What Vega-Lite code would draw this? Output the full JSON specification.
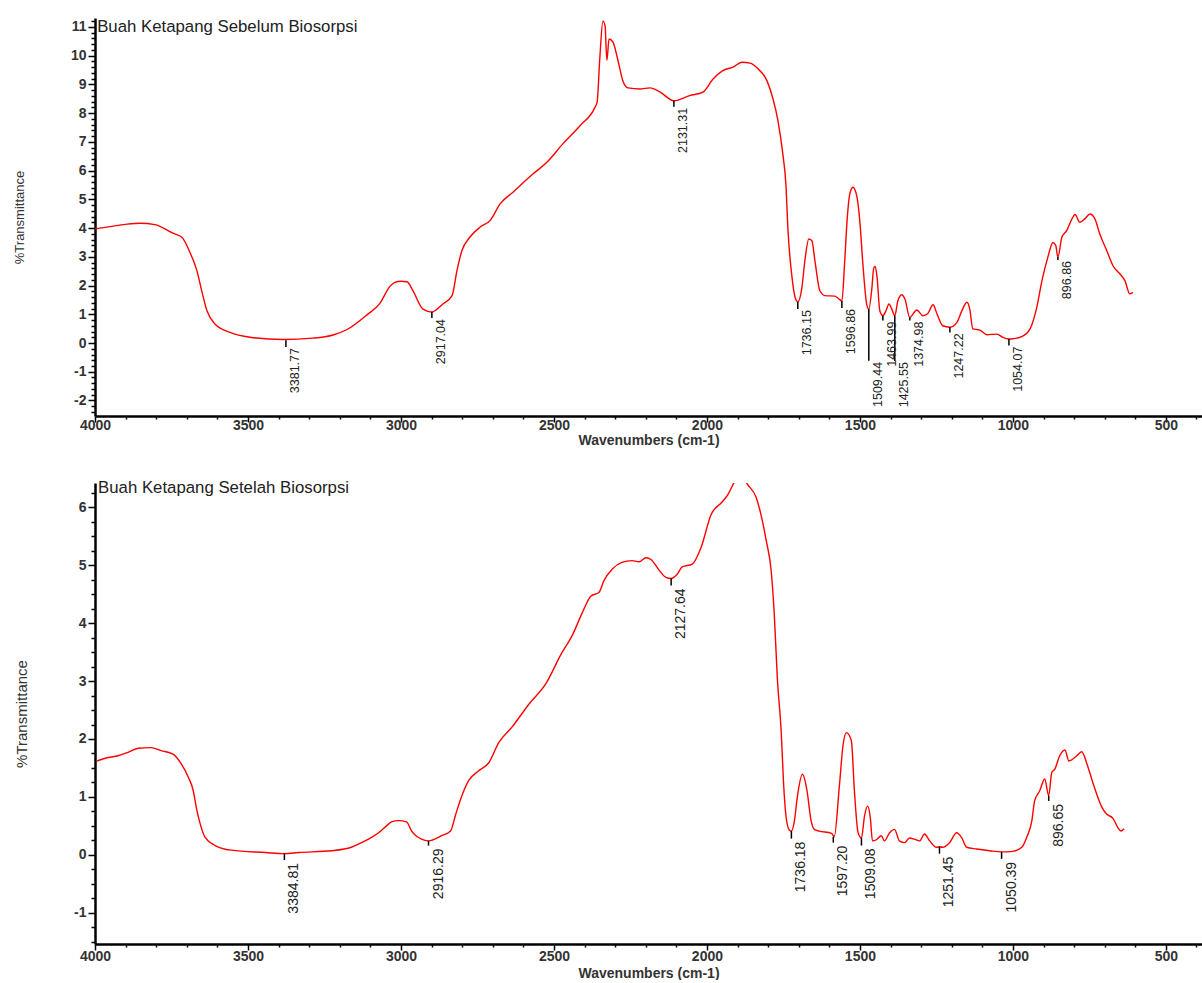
{
  "$schema": "https://vega.github.io/schema/vega-lite/v6.json",
  "padding": {"left": 13, "top": 14, "right": 0, "bottom": 0},
  "background": "white",
  "config": {"view": {"stroke": null}, "font": "Liberation Sans", "concat": {"spacing": 32}},
  "datasets": {
    "before": [
      {"wn":4000,"t":3.97},{"wn":3951,"t":4.05},{"wn":3900,"t":4.13},{"wn":3853,"t":4.17},{"wn":3804,"t":4.12},{"wn":3745,"t":3.82},{"wn":3716,"t":3.68},{"wn":3690,"t":3.16},{"wn":3667,"t":2.52},{"wn":3650,"t":1.76},{"wn":3634,"t":1.12},{"wn":3608,"t":0.66},{"wn":3559,"t":0.37},{"wn":3493,"t":0.2},{"wn":3386,"t":0.12},{"wn":3288,"t":0.17},{"wn":3222,"t":0.28},{"wn":3176,"t":0.47},{"wn":3111,"t":0.98},{"wn":3069,"t":1.38},{"wn":3036,"t":1.97},{"wn":3020,"t":2.11},{"wn":3000,"t":2.15},{"wn":2980,"t":2.13},{"wn":2961,"t":1.82},{"wn":2928,"t":1.18},{"wn":2899,"t":1.08},{"wn":2863,"t":1.36},{"wn":2833,"t":1.65},{"wn":2817,"t":2.52},{"wn":2801,"t":3.21},{"wn":2775,"t":3.68},{"wn":2742,"t":4.03},{"wn":2709,"t":4.26},{"wn":2676,"t":4.84},{"wn":2634,"t":5.25},{"wn":2569,"t":5.88},{"wn":2523,"t":6.29},{"wn":2471,"t":6.93},{"wn":2415,"t":7.56},{"wn":2366,"t":8.2},{"wn":2359,"t":8.38},{"wn":2350,"t":9.94},{"wn":2340,"t":11.2},{"wn":2333,"t":11.04},{"wn":2327,"t":9.84},{"wn":2320,"t":10.58},{"wn":2307,"t":10.47},{"wn":2291,"t":9.84},{"wn":2275,"t":9.13},{"wn":2258,"t":8.88},{"wn":2219,"t":8.84},{"wn":2186,"t":8.88},{"wn":2154,"t":8.74},{"wn":2108,"t":8.43},{"wn":2056,"t":8.61},{"wn":2013,"t":8.73},{"wn":1980,"t":9.19},{"wn":1948,"t":9.48},{"wn":1915,"t":9.6},{"wn":1886,"t":9.77},{"wn":1859,"t":9.74},{"wn":1833,"t":9.54},{"wn":1804,"t":9.13},{"wn":1784,"t":8.49},{"wn":1768,"t":7.74},{"wn":1752,"t":6.58},{"wn":1742,"t":5.53},{"wn":1735,"t":3.91},{"wn":1722,"t":2.29},{"wn":1712,"t":1.59},{"wn":1703,"t":1.43},{"wn":1690,"t":1.9},{"wn":1680,"t":2.86},{"wn":1667,"t":3.62},{"wn":1657,"t":3.56},{"wn":1647,"t":2.86},{"wn":1631,"t":1.82},{"wn":1614,"t":1.65},{"wn":1582,"t":1.63},{"wn":1565,"t":1.5},{"wn":1559,"t":1.46},{"wn":1550,"t":2.8},{"wn":1542,"t":4.26},{"wn":1533,"t":5.19},{"wn":1523,"t":5.42},{"wn":1510,"t":5.1},{"wn":1500,"t":4.2},{"wn":1490,"t":2.7},{"wn":1477,"t":1.3},{"wn":1471,"t":1.18},{"wn":1461,"t":1.9},{"wn":1455,"t":2.6},{"wn":1450,"t":2.66},{"wn":1444,"t":2.29},{"wn":1435,"t":1.12},{"wn":1425,"t":0.95},{"wn":1415,"t":1.12},{"wn":1405,"t":1.36},{"wn":1396,"t":1.18},{"wn":1386,"t":0.95},{"wn":1376,"t":1.47},{"wn":1363,"t":1.68},{"wn":1353,"t":1.53},{"wn":1337,"t":0.89},{"wn":1314,"t":1.15},{"wn":1294,"t":0.95},{"wn":1278,"t":1.03},{"wn":1261,"t":1.33},{"wn":1248,"t":1.01},{"wn":1229,"t":0.6},{"wn":1206,"t":0.55},{"wn":1183,"t":0.72},{"wn":1167,"t":1.12},{"wn":1150,"t":1.42},{"wn":1141,"t":1.18},{"wn":1131,"t":0.49},{"wn":1108,"t":0.45},{"wn":1085,"t":0.29},{"wn":1052,"t":0.31},{"wn":1033,"t":0.2},{"wn":1013,"t":0.14},{"wn":1000,"t":0.15},{"wn":971,"t":0.22},{"wn":944,"t":0.49},{"wn":922,"t":1.24},{"wn":905,"t":2.17},{"wn":886,"t":2.98},{"wn":869,"t":3.5},{"wn":860,"t":3.39},{"wn":853,"t":2.99},{"wn":840,"t":3.68},{"wn":824,"t":3.91},{"wn":807,"t":4.32},{"wn":797,"t":4.47},{"wn":781,"t":4.2},{"wn":765,"t":4.32},{"wn":748,"t":4.49},{"wn":732,"t":4.32},{"wn":716,"t":3.79},{"wn":693,"t":3.21},{"wn":673,"t":2.69},{"wn":650,"t":2.4},{"wn":634,"t":2.17},{"wn":618,"t":1.71},{"wn":608,"t":1.76}
    ],
    "after": [
      {"wn":3993,"t":1.62},{"wn":3957,"t":1.68},{"wn":3925,"t":1.71},{"wn":3892,"t":1.77},{"wn":3859,"t":1.84},{"wn":3817,"t":1.85},{"wn":3784,"t":1.8},{"wn":3745,"t":1.74},{"wn":3718,"t":1.57},{"wn":3695,"t":1.34},{"wn":3679,"t":1.11},{"wn":3669,"t":0.82},{"wn":3656,"t":0.53},{"wn":3640,"t":0.3},{"wn":3607,"t":0.16},{"wn":3555,"t":0.08},{"wn":3443,"t":0.04},{"wn":3381,"t":0.02},{"wn":3335,"t":0.04},{"wn":3227,"t":0.07},{"wn":3162,"t":0.13},{"wn":3129,"t":0.21},{"wn":3096,"t":0.3},{"wn":3073,"t":0.38},{"wn":3041,"t":0.53},{"wn":3031,"t":0.57},{"wn":3008,"t":0.59},{"wn":2982,"t":0.57},{"wn":2965,"t":0.41},{"wn":2933,"t":0.27},{"wn":2910,"t":0.24},{"wn":2867,"t":0.33},{"wn":2838,"t":0.41},{"wn":2821,"t":0.7},{"wn":2805,"t":0.96},{"wn":2779,"t":1.28},{"wn":2746,"t":1.45},{"wn":2713,"t":1.59},{"wn":2680,"t":1.94},{"wn":2638,"t":2.2},{"wn":2582,"t":2.6},{"wn":2527,"t":2.95},{"wn":2474,"t":3.49},{"wn":2441,"t":3.78},{"wn":2409,"t":4.16},{"wn":2379,"t":4.47},{"wn":2353,"t":4.53},{"wn":2337,"t":4.73},{"wn":2310,"t":4.93},{"wn":2278,"t":5.05},{"wn":2245,"t":5.08},{"wn":2222,"t":5.06},{"wn":2199,"t":5.13},{"wn":2183,"t":5.1},{"wn":2157,"t":4.92},{"wn":2134,"t":4.79},{"wn":2117,"t":4.77},{"wn":2098,"t":4.84},{"wn":2081,"t":4.97},{"wn":2048,"t":5.02},{"wn":2019,"t":5.31},{"wn":1986,"t":5.88},{"wn":1953,"t":6.08},{"wn":1934,"t":6.2},{"wn":1911,"t":6.43},{"wn":1890,"t":6.6},{"wn":1868,"t":6.4},{"wn":1839,"t":6.17},{"wn":1819,"t":5.77},{"wn":1806,"t":5.42},{"wn":1790,"t":4.9},{"wn":1780,"t":4.16},{"wn":1770,"t":3.06},{"wn":1757,"t":2.1},{"wn":1750,"t":1.28},{"wn":1741,"t":0.64},{"wn":1731,"t":0.43},{"wn":1724,"t":0.41},{"wn":1714,"t":0.59},{"wn":1705,"t":0.98},{"wn":1688,"t":1.39},{"wn":1673,"t":1.11},{"wn":1660,"t":0.6},{"wn":1649,"t":0.44},{"wn":1633,"t":0.41},{"wn":1593,"t":0.37},{"wn":1587,"t":0.33},{"wn":1584,"t":0.31},{"wn":1567,"t":1.2},{"wn":1555,"t":1.9},{"wn":1544,"t":2.11},{"wn":1528,"t":1.97},{"wn":1518,"t":1.1},{"wn":1506,"t":0.38},{"wn":1495,"t":0.29},{"wn":1485,"t":0.67},{"wn":1475,"t":0.84},{"wn":1466,"t":0.64},{"wn":1459,"t":0.24},{"wn":1446,"t":0.26},{"wn":1430,"t":0.33},{"wn":1420,"t":0.24},{"wn":1403,"t":0.38},{"wn":1387,"t":0.44},{"wn":1371,"t":0.24},{"wn":1354,"t":0.21},{"wn":1338,"t":0.29},{"wn":1322,"t":0.27},{"wn":1305,"t":0.24},{"wn":1289,"t":0.36},{"wn":1272,"t":0.24},{"wn":1250,"t":0.13},{"wn":1240,"t":0.14},{"wn":1230,"t":0.13},{"wn":1207,"t":0.21},{"wn":1184,"t":0.38},{"wn":1168,"t":0.3},{"wn":1151,"t":0.13},{"wn":1119,"t":0.1},{"wn":1076,"t":0.07},{"wn":1037,"t":0.05},{"wn":1001,"t":0.06},{"wn":971,"t":0.13},{"wn":955,"t":0.3},{"wn":938,"t":0.59},{"wn":929,"t":0.93},{"wn":912,"t":1.11},{"wn":896,"t":1.31},{"wn":883,"t":1.02},{"wn":873,"t":1.42},{"wn":863,"t":1.48},{"wn":847,"t":1.71},{"wn":830,"t":1.81},{"wn":817,"t":1.62},{"wn":791,"t":1.71},{"wn":775,"t":1.78},{"wn":758,"t":1.57},{"wn":739,"t":1.25},{"wn":709,"t":0.82},{"wn":693,"t":0.7},{"wn":673,"t":0.63},{"wn":657,"t":0.47},{"wn":647,"t":0.41},{"wn":637,"t":0.45}
    ],
    "peaksBefore": [
      {"label":"3381.77","wn":3376,"t":0.10,"t2":-0.14},
      {"label":"2917.04","wn":2899,"t":1.08,"t2":0.87},
      {"label":"2131.31","wn":2108,"t":8.43,"t2":8.22},
      {"label":"1736.15","wn":1703,"t":1.43,"t2":1.18},
      {"label":"1596.86","wn":1559,"t":1.46,"t2":1.22},
      {"label":"1509.44","wn":1471,"t":1.18,"t2":-0.62},
      {"label":"1463.99","wn":1425,"t":0.95,"t2":0.78},
      {"label":"1425.55","wn":1386,"t":0.95,"t2":-0.63},
      {"label":"1374.98","wn":1337,"t":0.89,"t2":0.78},
      {"label":"1247.22","wn":1206,"t":0.55,"t2":0.37},
      {"label":"1054.07","wn":1013,"t":0.14,"t2":-0.09},
      {"label":"896.86","wn":853,"t":2.99,"t2":2.89}
    ],
    "peaksAfter": [
      {"label":"3384.81","wn":3381,"t":0.02,"t2":-0.09},
      {"label":"2916.29","wn":2910,"t":0.24,"t2":0.16},
      {"label":"2127.64","wn":2117,"t":4.77,"t2":4.65},
      {"label":"1736.18","wn":1724,"t":0.41,"t2":0.28},
      {"label":"1597.20","wn":1587,"t":0.31,"t2":0.21},
      {"label":"1509.08","wn":1495,"t":0.29,"t2":0.16},
      {"label":"1251.45","wn":1240,"t":0.14,"t2":0.02},
      {"label":"1050.39","wn":1037,"t":0.05,"t2":-0.07},
      {"label":"896.65","wn":883,"t":1.02,"t2":0.93}
    ]
  },
  "vconcat": [
    {
      "width": 1107,
      "height": 398,
      "layer": [
        {
          "data": {"name": "before"},
          "mark": {"type": "line", "color": "#ff0000", "strokeWidth": 1.4, "clip": true, "interpolate": "monotone"},
          "encoding": {
            "x": {"field": "wn", "type": "quantitative", "scale": {"domain": [4000, 382], "nice": false, "zero": false},
              "axis": {"values": [4000,3900,3800,3700,3600,3500,3400,3300,3200,3100,3000,2900,2800,2700,2600,2500,2400,2300,2200,2100,2000,1900,1800,1700,1600,1500,1400,1300,1200,1100,1000,900,800,700,600,500,400],
                "tickCount": 1000,
                "labelExpr": "datum.value % 500 === 0 ? '' + datum.value : ''",
                "tickSize": {"condition": {"test": "datum.value % 500 === 0", "value": 6}, "value": 3},
                "tickColor": "black", "tickWidth": 1.5, "domainColor": "black", "domainWidth": 2.5,
                "labelFontSize": 14, "labelFontWeight": "bold", "labelColor": "#333", "labelPadding": -4, "labelFlush": false, "labelOverlap": false,
                "grid": false, "title": "Wavenumbers (cm-1)", "titleFontSize": 14, "titleFontWeight": "bold", "titleColor": "#333", "titlePadding": 1}},
            "y": {"field": "t", "type": "quantitative", "scale": {"domain": [-2.54, 11.31], "nice": false, "zero": false},
              "axis": {"values": [-2.4,-2.2,-2,-1.8,-1.6,-1.4,-1.2,-1,-0.8,-0.6,-0.4,-0.2,0,0.2,0.4,0.6,0.8,1,1.2,1.4,1.6,1.8,2,2.2,2.4,2.6,2.8,3,3.2,3.4,3.6,3.8,4,4.2,4.4,4.6,4.8,5,5.2,5.4,5.6,5.8,6,6.2,6.4,6.6,6.8,7,7.2,7.4,7.6,7.8,8,8.2,8.4,8.6,8.8,9,9.2,9.4,9.6,9.8,10,10.2,10.4,10.6,10.8,11,11.2],
                "tickCount": 1000,
                "labelExpr": "abs(datum.value - round(datum.value)) < 0.001 ? '' + round(datum.value) : ''",
                "tickSize": {"condition": {"test": "abs(datum.value - round(datum.value)) < 0.001", "value": 7}, "value": 4},
                "tickColor": "black", "tickWidth": 1.5, "domainColor": "black", "domainWidth": 2.5,
                "labelFontSize": 14, "labelFontWeight": "bold", "labelColor": "#333", "labelPadding": 2, "labelOverlap": false,
                "grid": false, "title": "%Transmittance", "titleFontSize": 13, "titleFontWeight": "normal", "titleColor": "#333", "titlePadding": 44}}
          }
        },
        {
          "data": {"name": "peaksBefore"},
          "mark": {"type": "rule", "color": "black", "strokeWidth": 1.5},
          "encoding": {
            "x": {"field": "wn", "type": "quantitative", "scale": {"domain": [4000, 382], "nice": false, "zero": false}},
            "y": {"field": "t", "type": "quantitative", "scale": {"domain": [-2.54, 11.31], "nice": false, "zero": false}},
            "y2": {"field": "t2"}
          }
        },
        {
          "data": {"name": "peaksBefore"},
          "mark": {"type": "text", "angle": 270, "align": "right", "baseline": "top", "dx": -1, "dy": 3, "fontSize": 12.5, "color": "#222"},
          "encoding": {
            "x": {"field": "wn", "type": "quantitative", "scale": {"domain": [4000, 382], "nice": false, "zero": false}},
            "y": {"field": "t2", "type": "quantitative", "scale": {"domain": [-2.54, 11.31], "nice": false, "zero": false}},
            "text": {"field": "label"}
          }
        },
        {
          "data": {"values": [{"title": "Buah Ketapang Sebelum Biosorpsi"}]},
          "mark": {"type": "text", "align": "left", "baseline": "middle", "fontSize": 16.8, "color": "#222"},
          "encoding": {
            "x": {"datum": 3993, "type": "quantitative"},
            "y": {"datum": 11.0, "type": "quantitative"},
            "text": {"field": "title"}
          }
        }
      ]
    },
    {
      "width": 1107,
      "height": 461,
      "layer": [
        {
          "data": {"name": "after"},
          "mark": {"type": "line", "color": "#ff0000", "strokeWidth": 1.4, "clip": true, "interpolate": "monotone"},
          "encoding": {
            "x": {"field": "wn", "type": "quantitative", "scale": {"domain": [4000, 382], "nice": false, "zero": false},
              "axis": {"values": [4000,3900,3800,3700,3600,3500,3400,3300,3200,3100,3000,2900,2800,2700,2600,2500,2400,2300,2200,2100,2000,1900,1800,1700,1600,1500,1400,1300,1200,1100,1000,900,800,700,600,500,400],
                "tickCount": 1000,
                "labelExpr": "datum.value % 500 === 0 ? '' + datum.value : ''",
                "tickSize": {"condition": {"test": "datum.value % 500 === 0", "value": 6}, "value": 3},
                "tickColor": "black", "tickWidth": 1.5, "domainColor": "black", "domainWidth": 2.5,
                "labelFontSize": 14, "labelFontWeight": "bold", "labelColor": "#333", "labelPadding": -1, "labelFlush": false, "labelOverlap": false,
                "grid": false, "title": "Wavenumbers (cm-1)", "titleFontSize": 14, "titleFontWeight": "bold", "titleColor": "#333", "titlePadding": 3}},
            "y": {"field": "t", "type": "quantitative", "scale": {"domain": [-1.54, 6.42], "nice": false, "zero": false},
              "axis": {"values": [-1.5,-1.25,-1,-0.75,-0.5,-0.25,0,0.25,0.5,0.75,1,1.25,1.5,1.75,2,2.25,2.5,2.75,3,3.25,3.5,3.75,4,4.25,4.5,4.75,5,5.25,5.5,5.75,6,6.25],
                "tickCount": 1000,
                "labelExpr": "abs(datum.value - round(datum.value)) < 0.001 ? '' + round(datum.value) : ''",
                "tickSize": {"condition": {"test": "abs(datum.value - round(datum.value)) < 0.001", "value": 7}, "value": 4},
                "tickColor": "black", "tickWidth": 1.5, "domainColor": "black", "domainWidth": 2.5,
                "labelFontSize": 14, "labelFontWeight": "bold", "labelColor": "#333", "labelPadding": 2, "labelOverlap": false,
                "grid": false, "title": "%Transmittance", "titleFontSize": 15, "titleFontWeight": "normal", "titleColor": "#333", "titlePadding": 44}}
          }
        },
        {
          "data": {"name": "peaksAfter"},
          "mark": {"type": "rule", "color": "black", "strokeWidth": 1.5},
          "encoding": {
            "x": {"field": "wn", "type": "quantitative", "scale": {"domain": [4000, 382], "nice": false, "zero": false}},
            "y": {"field": "t", "type": "quantitative", "scale": {"domain": [-1.54, 6.42], "nice": false, "zero": false}},
            "y2": {"field": "t2"}
          }
        },
        {
          "data": {"name": "peaksAfter"},
          "mark": {"type": "text", "angle": 270, "align": "right", "baseline": "top", "dx": -3, "dy": 3, "fontSize": 14, "color": "#222"},
          "encoding": {
            "x": {"field": "wn", "type": "quantitative", "scale": {"domain": [4000, 382], "nice": false, "zero": false}},
            "y": {"field": "t2", "type": "quantitative", "scale": {"domain": [-1.54, 6.42], "nice": false, "zero": false}},
            "text": {"field": "label"}
          }
        },
        {
          "data": {"values": [{"title": "Buah Ketapang Setelah Biosorpsi"}]},
          "mark": {"type": "text", "align": "left", "baseline": "middle", "fontSize": 16.8, "color": "#222"},
          "encoding": {
            "x": {"datum": 3990, "type": "quantitative"},
            "y": {"datum": 6.34, "type": "quantitative"},
            "text": {"field": "title"}
          }
        }
      ]
    }
  ]
}
